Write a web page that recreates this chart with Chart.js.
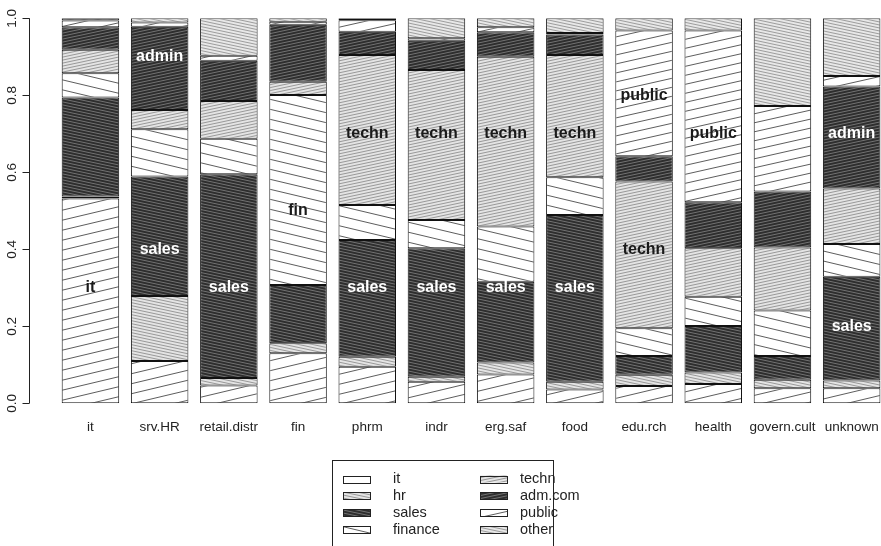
<!DOCTYPE html>
<html>
<head>
<meta charset="utf-8">
<script src="https://cdn.jsdelivr.net/npm/chart.js@4/dist/chart.umd.min.js"></script>
<style>
  html, body { margin: 0; padding: 0; background: #fff; overflow: hidden; }
  #c { display: block; }
</style>
</head>
<body>
<canvas id="c" width="881" height="546"></canvas>
<script>
// Sector groups along the x axis
const categories = ['it', 'srv.HR', 'retail.distr', 'fin', 'phrm', 'indr', 'erg.saf', 'food', 'edu.rch', 'health', 'govern.cult', 'unknown'];

// Share of each occupation inside every sector (stacked bottom to top)
const itShare      = [0.532, 0.110, 0.046, 0.130, 0.095, 0.056, 0.075, 0.036, 0.045, 0.050, 0.039, 0.039];
const hrShare      = [0.005, 0.169, 0.020, 0.026, 0.026, 0.013, 0.031, 0.020, 0.029, 0.030, 0.022, 0.020];
const salesShare   = [0.257, 0.310, 0.529, 0.151, 0.303, 0.334, 0.210, 0.433, 0.049, 0.121, 0.062, 0.270];
const financeShare = [0.063, 0.123, 0.092, 0.494, 0.091, 0.073, 0.143, 0.098, 0.072, 0.076, 0.118, 0.085];
const technShare   = [0.061, 0.050, 0.098, 0.034, 0.390, 0.390, 0.441, 0.318, 0.381, 0.126, 0.164, 0.144];
const admShare     = [0.059, 0.216, 0.105, 0.148, 0.060, 0.076, 0.064, 0.053, 0.066, 0.119, 0.145, 0.265];
const publicShare  = [0.017, 0.011, 0.013, 0.008, 0.030, 0.006, 0.013, 0.004, 0.326, 0.446, 0.222, 0.027];
const otherShare   = [0.006, 0.011, 0.097, 0.009, 0.005, 0.052, 0.023, 0.038, 0.032, 0.032, 0.228, 0.150];

const seriesNames = ['it', 'hr', 'sales', 'finance', 'techn', 'adm.com', 'public', 'other'];

// y axis ticks
const yTicks = [0, 0.2, 0.4, 0.6, 0.8, 1.0];

// In-bar annotations: sector index, text, height, dark text or light text
const noteSector = [0, 1, 1, 2, 3, 4, 4, 5, 5, 6, 6, 7, 7, 8, 8, 9, 11, 11];
const noteText   = ['it', 'admin', 'sales', 'sales', 'fin', 'techn', 'sales', 'techn', 'sales', 'techn', 'sales', 'techn', 'sales', 'public', 'techn', 'public', 'admin', 'sales'];
const noteY      = [0.3, 0.9, 0.4, 0.3, 0.5, 0.7, 0.3, 0.7, 0.3, 0.7, 0.3, 0.7, 0.3, 0.8, 0.4, 0.7, 0.7, 0.2];
const noteLight  = [false, true, true, true, false, false, true, false, true, false, true, false, true, false, false, false, true, true];

// Hatch fill: parallel lines with a vertical period of `sv` px that rise (dir=+1)
// or fall (dir=-1) by one period over `run` px.
function hatch(bg, fg, sv, run, dir, lw) {
  const t = document.createElement('canvas');
  t.width = run; t.height = sv;
  const g = t.getContext('2d');
  g.fillStyle = bg;
  g.fillRect(0, 0, run, sv);
  g.strokeStyle = fg;
  g.lineWidth = lw;
  for (let k = -2; k <= 3; k++) {
    const y0 = k * sv + sv / 2;
    g.beginPath();
    g.moveTo(-run, y0 + dir * sv);
    g.lineTo(2 * run, y0 - 2 * dir * sv);
    g.stroke();
  }
  return g.createPattern(t, 'repeat');
}

const fills = [
  hatch('#ffffff', '#333333', 10, 42, 1, 0.8),   // it
  hatch('#e4e4e4', '#8e8e8e', 3, 14, -1, 0.9),   // hr
  hatch('#2e2e2e', '#7a7a7a', 3, 14, -1, 0.9),   // sales
  hatch('#ffffff', '#333333', 10, 42, -1, 0.8),  // finance
  hatch('#e4e4e4', '#8e8e8e', 3, 14, 1, 0.9),    // techn
  hatch('#2e2e2e', '#7a7a7a', 3, 14, 1, 0.9),    // adm.com
  hatch('#ffffff', '#333333', 9, 40, 1, 0.8),    // public
  hatch('#e8e8e8', '#939393', 3, 14, -1, 0.9)    // other
];

const shares = [itShare, hrShare, salesShare, financeShare, technShare, admShare, publicShare, otherShare];
const datasets = seriesNames.map((name, s) => ({
  label: name,
  data: shares[s].map((v, i) => ({ x: i + 1, y: v })),
  backgroundColor: fills[s],
  borderColor: '#111111',
  borderWidth: 1,
  borderSkipped: false,
  barPercentage: 0.831,
  categoryPercentage: 1.0
}));

const FONT = '"Liberation Sans", Arial, Helvetica, sans-serif';

const decor = {
  id: 'decor',
  afterDraw(chart) {
    const ctx = chart.ctx;
    const xs = chart.scales.x, ys = chart.scales.y;
    const ax = chart.chartArea.left;
    ctx.save();

    // y axis line, ticks and rotated labels
    ctx.strokeStyle = '#222';
    ctx.lineWidth = 1;
    ctx.beginPath();
    ctx.moveTo(ax + 0.5, ys.getPixelForValue(yTicks[0]));
    ctx.lineTo(ax + 0.5, ys.getPixelForValue(yTicks[yTicks.length - 1]));
    yTicks.forEach(v => {
      const py = Math.round(ys.getPixelForValue(v)) + 0.5;
      ctx.moveTo(ax + 0.5, py);
      ctx.lineTo(ax - 6.5, py);
    });
    ctx.stroke();
    ctx.fillStyle = '#222';
    ctx.font = '13.5px ' + FONT;
    ctx.textAlign = 'center';
    ctx.textBaseline = 'middle';
    yTicks.forEach(v => {
      ctx.save();
      ctx.translate(12, ys.getPixelForValue(v));
      ctx.rotate(-Math.PI / 2);
      ctx.fillText(v.toFixed(1), 0, 0);
      ctx.restore();
    });

    // sector names under the bars
    ctx.font = '13.5px ' + FONT;
    categories.forEach((c, i) => {
      ctx.fillText(c, xs.getPixelForValue(i + 1), 427);
    });

    // annotations inside bars
    ctx.font = 'bold 16px ' + FONT;
    noteText.forEach((t, k) => {
      ctx.fillStyle = noteLight[k] ? '#ffffff' : '#1a1a1a';
      ctx.fillText(t, xs.getPixelForValue(noteSector[k] + 1), ys.getPixelForValue(noteY[k]));
    });

    // legend box, two columns of four
    const lx = 332.5, ly = 460.5;
    ctx.strokeStyle = '#222';
    ctx.lineWidth = 1;
    ctx.strokeRect(lx, ly, 221, 100);
    ctx.font = '14.5px ' + FONT;
    ctx.textAlign = 'left';
    seriesNames.forEach((name, s) => {
      const col = Math.floor(s / 4), row = s % 4;
      const bx = col === 0 ? 343 : 480;
      const tx = col === 0 ? 393 : 520;
      const ty = 479 + row * 16.9;
      ctx.fillStyle = s === 0 ? '#ffffff' : fills[s];
      ctx.fillRect(bx, ty - 3.5, 27, 7);
      ctx.strokeStyle = '#222';
      ctx.strokeRect(bx + 0.5, Math.round(ty - 3.5) + 0.5, 27, 7);
      ctx.fillStyle = '#222';
      ctx.fillText(name, tx, ty);
    });
    ctx.restore();
  }
};

new Chart(document.getElementById('c'), {
  type: 'bar',
  data: { datasets },
  options: {
    responsive: false,
    animation: false,
    devicePixelRatio: 1,
    layout: { padding: { left: 29, right: 0, top: 18.3, bottom: 142.7 } },
    plugins: { legend: { display: false }, tooltip: { enabled: false } },
    scales: {
      x: {
        type: 'linear', stacked: true, display: false, offset: false,
        min: 0.112, max: 12.424,
        ticks: { stepSize: 1, includeBounds: false }
      },
      y: { stacked: true, display: false, min: 0, max: 1 }
    }
  },
  plugins: [decor]
});
</script>
</body>
</html>
